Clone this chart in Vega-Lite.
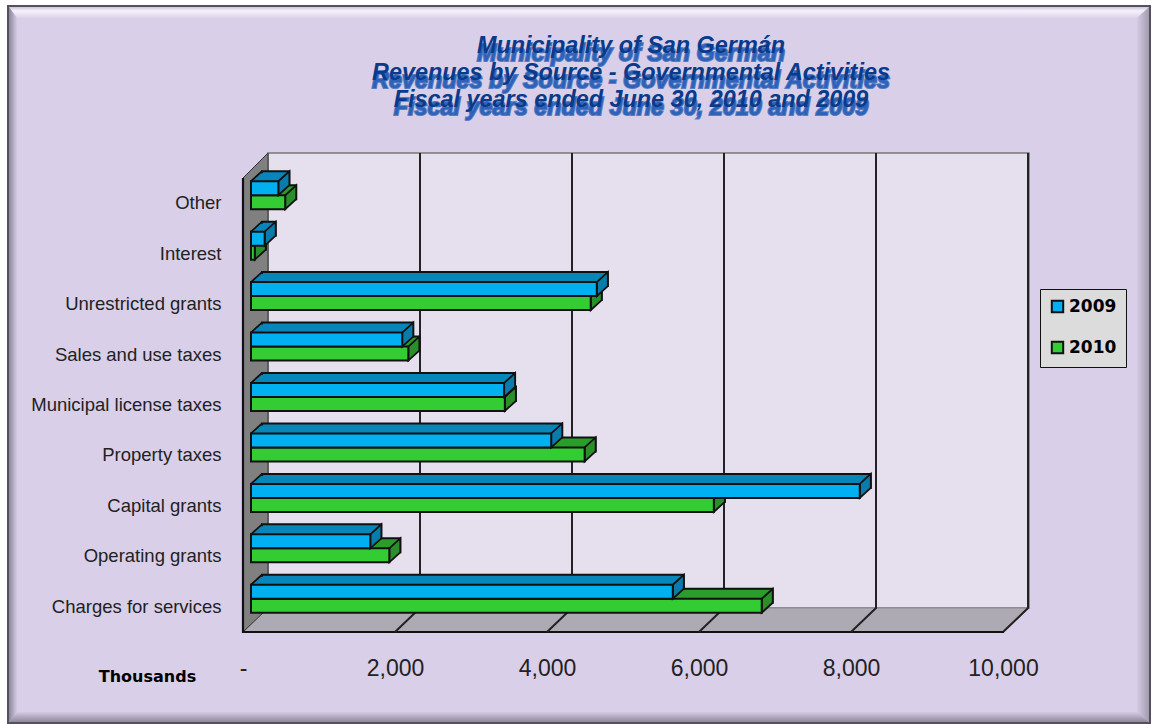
{"$schema":"https://vega.github.io/schema/vega-lite/v6.json","background":"white","autosize":{"type":"none"},"padding":{"left":243,"top":170,"right":149,"bottom":100},"width":760,"height":454,
"title":{"text":["Municipality of San Germán","Revenues by Source - Governmental Activities","Fiscal years ended June 30, 2010 and 2009"],"font":"Liberation Sans","fontSize":23.4,"fontWeight":"bold","fontStyle":"italic","color":"#0a3a8a","lineHeight":27,"anchor":"middle","dx":8,"offset":-110,"zindex":1},
"config":{"view":{"stroke":null}},
"resolve":{"axis":{"x":"independent"}},
"datasets":{"bars":[
{"category":"Other","year":"2009","value":360},{"category":"Other","year":"2010","value":450},
{"category":"Interest","year":"2009","value":180},{"category":"Interest","year":"2010","value":50},
{"category":"Unrestricted grants","year":"2009","value":4550},{"category":"Unrestricted grants","year":"2010","value":4470},
{"category":"Sales and use taxes","year":"2009","value":1990},{"category":"Sales and use taxes","year":"2010","value":2070},
{"category":"Municipal license taxes","year":"2009","value":3330},{"category":"Municipal license taxes","year":"2010","value":3340},
{"category":"Property taxes","year":"2009","value":3950},{"category":"Property taxes","year":"2010","value":4390},
{"category":"Capital grants","year":"2009","value":8010},{"category":"Capital grants","year":"2010","value":6090},
{"category":"Operating grants","year":"2009","value":1570},{"category":"Operating grants","year":"2010","value":1820},
{"category":"Charges for services","year":"2009","value":5550},{"category":"Charges for services","year":"2010","value":6720}],
"ticks":[{"tick":2000},{"tick":4000},{"tick":6000},{"tick":8000},{"tick":10000}],
"one":[{"tick":0}],"mid":[{"tick":5000}]},
"layer":[
{"data":{"name":"one"},"mark":{"type":"point","shape":"M-235,-391L907,-391L907,326L-235,326Z","size":4,"filled":true,"opacity":1,"fill":"#d9cfe8","stroke":"#55505f","strokeWidth":2},"encoding":{"x":{"field":"tick","type":"quantitative","scale":{"domain":[0,10000]},"axis":null}}},
{"data":{"name":"one"},"mark":{"type":"point","shape":"M-234,-390L906,-390L894,-379L-226,-379Z","size":4,"filled":true,"opacity":1,"strokeWidth":0,"fill":{"gradient":"linear","x1":0,"y1":0,"x2":0,"y2":1,"stops":[{"offset":0,"color":"#cdc5d8"},{"offset":0.35,"color":"#f6f1fc"},{"offset":1,"color":"#dcd3ea"}]}},"encoding":{"x":{"field":"tick","type":"quantitative","axis":null}}},
{"data":{"name":"one"},"mark":{"type":"point","shape":"M-234,-390L-226,-379L-226,315L-234,325Z","size":4,"filled":true,"opacity":1,"strokeWidth":0,"fill":{"gradient":"linear","x1":0,"y1":0,"x2":1,"y2":0,"stops":[{"offset":0,"color":"#8d8699"},{"offset":1,"color":"#d5cbe4"}]}},"encoding":{"x":{"field":"tick","type":"quantitative","axis":null}}},
{"data":{"name":"one"},"mark":{"type":"point","shape":"M906,-390L894,-379L894,315L906,325Z","size":4,"filled":true,"opacity":1,"strokeWidth":0,"fill":{"gradient":"linear","x1":0,"y1":0,"x2":1,"y2":0,"stops":[{"offset":0,"color":"#d5cbe4"},{"offset":1,"color":"#a29bad"}]}},"encoding":{"x":{"field":"tick","type":"quantitative","axis":null}}},
{"data":{"name":"one"},"mark":{"type":"point","shape":"M-234,325L906,325L894,315L-226,315Z","size":4,"filled":true,"opacity":1,"strokeWidth":0,"fill":{"gradient":"linear","x1":0,"y1":0,"x2":0,"y2":1,"stops":[{"offset":0,"color":"#d5cbe4"},{"offset":1,"color":"#8f8899"}]}},"encoding":{"x":{"field":"tick","type":"quantitative","axis":null}}},
{"data":{"name":"one"},"mark":{"type":"point","shape":"M25,-244L786,-244L786,211L25,211Z","size":4,"filled":true,"opacity":1,"fill":"#e6e0ee","stroke":"#777777","strokeWidth":1.5},"encoding":{"x":{"field":"tick","type":"quantitative","axis":null}}},
{"data":{"name":"one"},"mark":{"type":"point","shape":"M0,235L761,235L786,211L25,211Z","size":4,"filled":true,"opacity":1,"fill":"#aeaab4","stroke":"#8b8790","strokeWidth":1},"encoding":{"x":{"field":"tick","type":"quantitative","axis":null}}},
{"data":{"name":"one"},"mark":{"type":"point","shape":"M0,-219L25,-244L25,211L0,235Z","size":4,"filled":true,"opacity":1,"fill":"#808080","stroke":"#333333","strokeWidth":1},"encoding":{"x":{"field":"tick","type":"quantitative","axis":null}}},
{"data":{"name":"one"},"mark":{"type":"point","shape":"M0,-219L0,235L761,235","size":4,"filled":false,"opacity":1,"stroke":"#111111","strokeWidth":2.2},"encoding":{"x":{"field":"tick","type":"quantitative","axis":null}}},
{"data":{"name":"ticks"},"mark":{"type":"point","shape":"M0,235L25,211L25,-244","size":4,"filled":false,"opacity":1,"stroke":"#222222","strokeWidth":2},"encoding":{"x":{"field":"tick","type":"quantitative","axis":null}}},
{"data":{"name":"mid"},"mark":{"type":"text","text":"Municipality of San Germán\nRevenues by Source - Governmental Activities\nFiscal years ended June 30, 2010 and 2009","lineBreak":"\n","lineHeight":27,"font":"Liberation Sans","fontSize":23.4,"fontWeight":"bold","fontStyle":"italic","fill":"#2d62b8","stroke":"#2d62b8","strokeWidth":2,"strokeOpacity":0.75,"dx":8,"dy":-343,"baseline":"middle","align":"center"},"encoding":{"x":{"field":"tick","type":"quantitative","axis":null}}},
{"data":{"name":"bars"},
"encoding":{"x":{"field":"value","type":"quantitative","axis":null},
"y":{"field":"category","type":"nominal","title":null,"sort":["Other","Interest","Unrestricted grants","Sales and use taxes","Municipal license taxes","Property taxes","Capital grants","Operating grants","Charges for services"],"scale":{"paddingInner":0,"paddingOuter":0},"axis":{"zindex":1,"domain":false,"ticks":false,"grid":false,"labelPadding":22,"labelOffset":8,"labelFont":"Liberation Sans","labelFontSize":18.5,"labelColor":"#222222","labelLimit":230}}},
"layer":[
{"transform":[{"filter":"datum.year=='2010'"}],"layer":[
{"mark":{"type":"bar","size":14,"xOffset":19,"x2Offset":19,"yOffset":-3,"fill":"#2a9d2a","stroke":"#111111","strokeWidth":2}},
{"mark":{"type":"bar","size":14,"xOffset":16.8,"x2Offset":16.8,"yOffset":-1,"fill":"#2a9d2a"}},
{"mark":{"type":"bar","size":14,"xOffset":14.6,"x2Offset":14.6,"yOffset":1,"fill":"#2a9d2a"}},
{"mark":{"type":"bar","size":14,"xOffset":12.4,"x2Offset":12.4,"yOffset":3,"fill":"#2a9d2a"}},
{"mark":{"type":"bar","size":14,"xOffset":10.2,"x2Offset":10.2,"yOffset":5,"fill":"#2a9d2a"}},
{"mark":{"type":"point","shape":"M0,-7L11,-17L11,-3L0,7Z","size":4,"filled":true,"opacity":1,"fill":"#2a8f2a","stroke":"#111111","strokeWidth":1.8,"xOffset":8,"yOffset":7}},
{"mark":{"type":"point","shape":"M0,-7L11,-17","size":4,"filled":false,"opacity":1,"stroke":"#111111","strokeWidth":1.8,"xOffset":8,"yOffset":7},"encoding":{"x":{"datum":0,"axis":null}}},
{"mark":{"type":"bar","size":14,"xOffset":8,"x2Offset":8,"yOffset":7,"stroke":"#111111","strokeWidth":2},"encoding":{"color":{"field":"year","type":"nominal","scale":{"domain":["2009","2010"],"range":["#00b0f0","#33cc33"]},"legend":{"orient":"none","legendX":797,"legendY":119,"title":null,"fillColor":"#dcdcdc","strokeColor":"#111111","padding":9,"rowPadding":20,"symbolType":"square","symbolSize":130,"symbolStrokeColor":"#111111","symbolStrokeWidth":2,"symbolOpacity":1,"labelFont":"DejaVu Sans","labelFontWeight":"bold","labelFontSize":17,"labelColor":"#000000","labelOffset":3}}}}
]},
{"transform":[{"filter":"datum.year=='2009'"}],"layer":[
{"mark":{"type":"bar","size":14,"xOffset":19,"x2Offset":19,"yOffset":-17,"fill":"#0786ba","stroke":"#111111","strokeWidth":2}},
{"mark":{"type":"bar","size":14,"xOffset":16.8,"x2Offset":16.8,"yOffset":-15,"fill":"#0786ba"}},
{"mark":{"type":"bar","size":14,"xOffset":14.6,"x2Offset":14.6,"yOffset":-13,"fill":"#0786ba"}},
{"mark":{"type":"bar","size":14,"xOffset":12.4,"x2Offset":12.4,"yOffset":-11,"fill":"#0786ba"}},
{"mark":{"type":"bar","size":14,"xOffset":10.2,"x2Offset":10.2,"yOffset":-9,"fill":"#0786ba"}},
{"mark":{"type":"point","shape":"M0,-7L11,-17L11,-3L0,7Z","size":4,"filled":true,"opacity":1,"fill":"#0a7cab","stroke":"#111111","strokeWidth":1.8,"xOffset":8,"yOffset":-7}},
{"mark":{"type":"point","shape":"M0,-7L11,-17","size":4,"filled":false,"opacity":1,"stroke":"#111111","strokeWidth":1.8,"xOffset":8,"yOffset":-7},"encoding":{"x":{"datum":0,"axis":null}}},
{"mark":{"type":"bar","size":14,"xOffset":8,"x2Offset":8,"yOffset":-7,"stroke":"#111111","strokeWidth":2},"encoding":{"color":{"field":"year","type":"nominal","scale":{"domain":["2009","2010"],"range":["#00b0f0","#33cc33"]}}}}
]}
]},
{"data":{"name":"one"},"mark":{"type":"point","opacity":0,"size":1},"encoding":{"x":{"field":"tick","type":"quantitative","title":"Thousands","axis":{"values":[0,2000,4000,6000,8000,10000],"zindex":1,"domain":false,"ticks":false,"grid":false,"labelExpr":"datum.value==0?'-':format(datum.value,',')","labelFont":"Liberation Sans","labelFontSize":23,"labelColor":"#222222","labelPadding":33,"labelFlush":false,"labelOverlap":false,"titleFont":"DejaVu Sans","titleFontWeight":"bold","titleFontSize":16,"titleColor":"#000000","titleX":-96,"titleY":57,"titleAlign":"center","titleBaseline":"alphabetic"}}}}
]}
